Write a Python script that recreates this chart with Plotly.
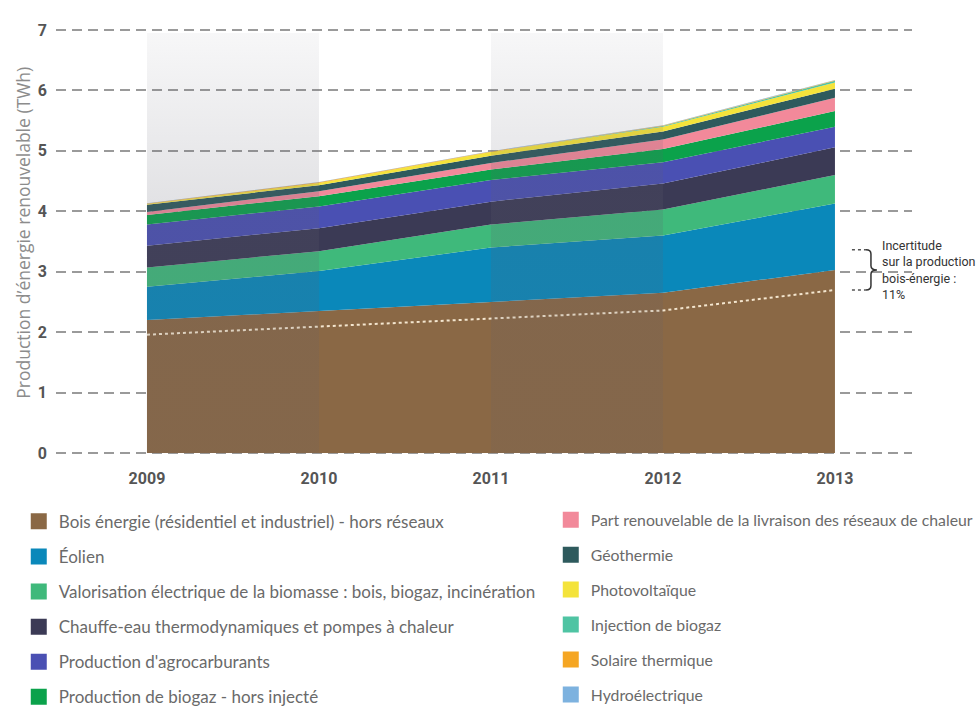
import plotly.graph_objects as go

# Production d'énergie renouvelable (TWh), par filière
years = [2009, 2010, 2011, 2012, 2013]
year_labels = ["2009", "2010", "2011", "2012", "2013"]

bois = [2.20, 2.35, 2.50, 2.65, 3.03]
eolien = [0.55, 0.66, 0.90, 0.95, 1.10]
biomasse_elec = [0.32, 0.33, 0.38, 0.43, 0.47]
pac = [0.36, 0.38, 0.38, 0.43, 0.46]
agrocarburants = [0.35, 0.36, 0.36, 0.35, 0.34]
biogaz = [0.16, 0.17, 0.17, 0.22, 0.26]
reseaux_chaleur = [0.05, 0.08, 0.11, 0.16, 0.22]
geothermie = [0.12, 0.10, 0.12, 0.13, 0.15]
photovoltaique = [0.01, 0.04, 0.06, 0.08, 0.10]
injection_biogaz = [0.00, 0.00, 0.00, 0.01, 0.03]
solaire_thermique = [0.01, 0.01, 0.01, 0.01, 0.01]
hydro = [0.005, 0.005, 0.005, 0.005, 0.005]

uncertainty = 0.11  # incertitude sur le bois-énergie

y_ticks = [0, 1, 2, 3, 4, 5, 6, 7]

series = [
    ("Bois énergie (résidentiel et industriel) - hors réseaux", bois, "#8a6845"),
    ("Éolien", eolien, "#0a88ba"),
    ("Valorisation électrique de la biomasse : bois, biogaz, incinération", biomasse_elec, "#3fb97b"),
    ("Chauffe-eau thermodynamiques et pompes à chaleur", pac, "#3b3a55"),
    ("Production d'agrocarburants", agrocarburants, "#4a50b3"),
    ("Production de biogaz - hors injecté", biogaz, "#0ba24b"),
    ("Part renouvelable de la livraison des réseaux de chaleur", reseaux_chaleur, "#f2899a"),
    ("Géothermie", geothermie, "#2e5a5d"),
    ("Photovoltaïque", photovoltaique, "#f4e33b"),
    ("Injection de biogaz", injection_biogaz, "#4fc4a3"),
    ("Solaire thermique", solaire_thermique, "#f5a623"),
    ("Hydroélectrique", hydro, "#7db2df"),
]

fig = go.Figure()

# Stacked areas
for name, values, color in series:
    fig.add_trace(go.Scatter(
        x=years, y=values, name=name, stackgroup="prod", mode="none",
        fillcolor=color, line=dict(width=0), showlegend=False,
    ))

# Lower bound of the wood-energy estimate
fig.add_trace(go.Scatter(
    x=years, y=[v * (1 - uncertainty) for v in bois], mode="lines",
    line=dict(color="#f4e6cf", width=2, dash="dot"), showlegend=False,
    hoverinfo="skip",
))

# Alternating year bands, drawn over the areas
band_scale = [
    [0.0, "rgba(95,95,110,0.13)"],
    [0.6, "rgba(95,95,110,0.18)"],
    [1.0, "rgba(95,95,110,0.05)"],
]
for x0, x1 in [(years[0], years[1]), (years[2], years[3])]:
    fig.add_trace(go.Scatter(
        x=[x0, x1, x1, x0, x0], y=[0, 0, 6.95, 6.95, 0],
        mode="none", fill="toself",
        fillgradient=dict(type="vertical", colorscale=band_scale, start=0, stop=6.95),
        showlegend=False, hoverinfo="skip",
    ))

# Legend entries (two columns)
for i, (name, values, color) in enumerate(series):
    fig.add_trace(go.Scatter(
        x=[None], y=[None], mode="markers", name=name,
        marker=dict(symbol="square", size=17, color=color),
        legend="legend" if i < 6 else "legend2",
        legendgroup=f"g{i}",
    ))

# Uncertainty bracket at the last year
last = years[-1]
hi = bois[-1] * (1 + uncertainty)
lo = bois[-1] * (1 - uncertainty)
mid = bois[-1]
x_a = last + 17 / 172
x_b = last + 31 / 172
x_v = last + 36 / 172
x_t = last + 42 / 172
r = 0.07
for yy in (hi, lo):
    fig.add_shape(type="line", x0=x_a, x1=x_b, y0=yy, y1=yy,
                  line=dict(color="#555555", width=1.5, dash="dot"))
brace = (f"M {x_b},{hi} Q {x_v},{hi} {x_v},{hi - r} L {x_v},{mid + r} "
         f"Q {x_v},{mid} {x_t},{mid} Q {x_v},{mid} {x_v},{mid - r} "
         f"L {x_v},{lo + r} Q {x_v},{lo} {x_b},{lo}")
fig.add_shape(type="path", path=brace, line=dict(color="#333333", width=1.5))

fig.add_annotation(
    x=last + 45 / 172, y=mid, xref="x", yref="y", xanchor="left", yanchor="middle",
    align="left", showarrow=False,
    text="Incertitude<br>sur la production<br>bois-énergie :<br>11%",
    font=dict(family="Roboto, sans-serif", size=12.5, color="#333333"),
)

# Y axis title
fig.add_annotation(
    x=-0.0386, y=0.52, xref="paper", yref="paper", textangle=-90,
    xanchor="center", yanchor="middle", showarrow=False,
    text="Production d’énergie renouvelable (TWh)",
    font=dict(family="Open Sans, sans-serif", size=17.5, color="#8c8c8c"),
)

tick_font = dict(family="Roboto, sans-serif", size=16,
                 color="#555555", weight="bold")
legend_font_left = dict(family="Lato, sans-serif", size=17, color="#6a6a6a")
legend_font_right = dict(family="Lato, sans-serif", size=15.8, color="#6a6a6a")

fig.update_layout(
    width=978, height=708,
    margin=dict(l=56, r=66, t=24, b=249, autoexpand=False),
    paper_bgcolor="white", plot_bgcolor="white",
    xaxis=dict(
        range=[2008.471, 2013.448], tickvals=years, ticktext=year_labels,
        showgrid=False, zeroline=False, showline=False, ticks="",
        tickfont=tick_font, ticklabelstandoff=8,
    ),
    yaxis=dict(
        range=[-0.1, 7.1], tickvals=y_ticks, showgrid=True,
        gridcolor="#9a9a9a", gridwidth=1.5, griddash="10px,6px",
        zeroline=False, showline=False, ticks="",
        tickfont=tick_font, ticklabelstandoff=8,
    ),
    legend=dict(
        x=-0.0435, y=-0.103, xanchor="left", yanchor="top",
        font=legend_font_left, traceorder="grouped", tracegroupgap=10,
        bgcolor="rgba(0,0,0,0)", itemclick=False,
    ),
    legend2=dict(
        x=0.578, y=-0.101, xanchor="left", yanchor="top",
        font=legend_font_right, traceorder="grouped", tracegroupgap=11.4,
        bgcolor="rgba(0,0,0,0)", itemclick=False,
    ),
    showlegend=True,
)

fig.write_html("out.html")
